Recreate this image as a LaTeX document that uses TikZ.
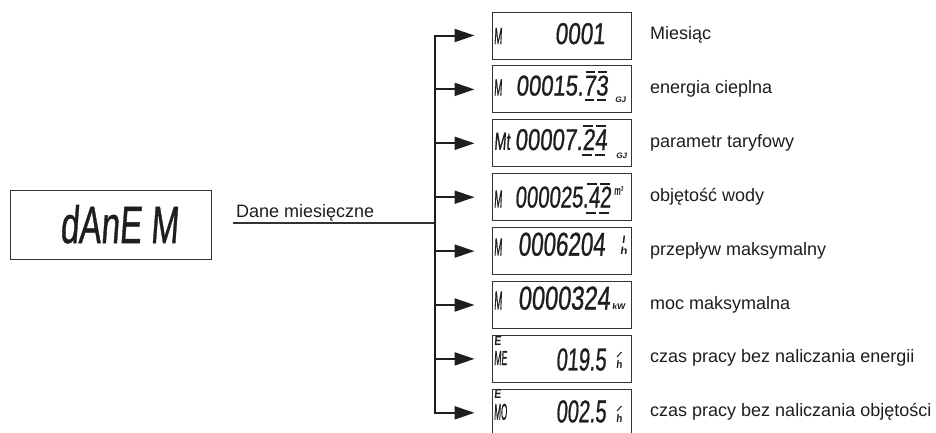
\documentclass[tikz,border=0pt]{standalone}
\usepackage{fontspec}
\usepackage{graphicx}
\usetikzlibrary{arrows.meta}
\setmainfont{Liberation Sans}
\newfontfamily\lcdf{Liberation Sans}[FakeSlant=0.12, FakeBold=1.0]
\newfontfamily\lcdu{Liberation Sans}[FakeSlant=0.12]
\newcommand\lcdtxt[3]{\resizebox{#1}{#2}{\lcdf #3}}
\newcommand\lcdbold[3]{\resizebox{#1}{#2}{\lcdu\bfseries #3}}
\definecolor{ink}{HTML}{1E1E1E}
\definecolor{frame}{HTML}{333333}
\begin{document}
\begin{tikzpicture}[x=1pt,y=-1pt,
  lcdbox/.style={draw=frame, line width=1pt, minimum width=139pt, minimum height=47pt, inner sep=0pt},
  lcd/.style={inner sep=0pt, outer sep=0pt, text=ink},
  lab/.style={inner sep=0pt, text=ink, font=\fontsize{18}{22}\selectfont},
  conn/.style={line width=2pt, draw=ink},
  arr/.style={conn, -{Triangle[length=20pt,width=13pt]}, shorten >=17pt},
  uline/.style={line width=1.2pt, draw=frame},
  segbar/.style={line width=2pt, draw=ink},
  tick/.style={line width=1pt, draw=ink}]
\clip (0,0) rectangle (936,432);
\fill[white] (0,0) rectangle (936,432);

% left display
\node[lcdbox, minimum width=201pt, minimum height=69pt] (lcd0) at (110.5,224.5) {};
\node[lcd, anchor=north west] (t0) at (60,205) {\lcdtxt{118pt}{38pt}{dAnE M}};
\node[lab, anchor=base west] (dm) at (236,217) {Dane miesięczne};

% display boxes
\node[lcdbox] (box1) at (561.5,35.5) {};
\node[lcdbox] (box2) at (561.5,89.4) {};
\node[lcdbox] (box3) at (561.5,143.3) {};
\node[lcdbox] (box4) at (561.5,197.2) {};
\node[lcdbox] (box5) at (561.5,251.1) {};
\node[lcdbox] (box6) at (561.5,305.0) {};
\node[lcdbox] (box7) at (561.5,358.9) {};
\node[lcdbox] (box8) at (561.5,412.8) {};

% bus and arrows
\coordinate (b1) at (435,35.5);
\coordinate (b2) at (435,89.4);
\coordinate (b3) at (435,143.3);
\coordinate (b4) at (435,197.2);
\coordinate (b5) at (435,251.1);
\coordinate (b6) at (435,305.0);
\coordinate (b7) at (435,358.9);
\coordinate (b8) at (435,412.8);
\coordinate (u0) at (233,223);
\coordinate (bj) at (435,223);
\draw[uline] (u0) -- (bj);
\draw[arr] (b8) -- (b1) -- (box1.west);
\draw[arr] (b1) -- (b8) -- (box8.west);
\draw[arr] (b2) -- (box2.west);
\draw[arr] (b3) -- (box3.west);
\draw[arr] (b4) -- (box4.west);
\draw[arr] (b5) -- (box5.west);
\draw[arr] (b6) -- (box6.west);
\draw[arr] (b7) -- (box7.west);

% row 1
\node[lcd, anchor=south west] (p1) at (494,44) {\lcdtxt{8pt}{16pt}{M}};
\node[lcd, anchor=north east] (d1) at (605,23) {\lcdtxt{50pt}{21pt}{0001}};
% row 2
\node[lcd, anchor=south west] (p2) at (494,95.5) {\lcdtxt{8pt}{16pt}{M}};
\node[lcd, anchor=north east] (d2) at (608,75.5) {\lcdtxt{92pt}{20pt}{00015.73}};
\draw[segbar] (586,72) -- (595,72) (598,72) -- (607,72);
\draw[segbar] (585,100) -- (594,100) (597,100) -- (606,100);
\node[lcd, anchor=north west] (u2) at (615,97) {\lcdbold{11pt}{5.5pt}{GJ}};
% row 3
\node[lcd, anchor=south west] (p3) at (494,150) {\lcdtxt{16pt}{17pt}{Mt}};
\node[lcd, anchor=north east] (d3) at (607,129) {\lcdtxt{92pt}{21pt}{00007.24}};
\draw[segbar] (583,126) -- (593,126) (596,126) -- (606,126);
\draw[segbar] (582,155) -- (592,155) (595,155) -- (605,155);
\node[lcd, anchor=north west] (u3) at (616,153) {\lcdbold{11pt}{5.5pt}{GJ}};
% row 4
\node[lcd, anchor=south west] (p4) at (494,207.5) {\lcdtxt{8pt}{17pt}{M}};
\node[lcd, anchor=north east] (d4) at (611,186.5) {\lcdtxt{96pt}{21pt}{000025.42}};
\draw[segbar] (587,183.5) -- (597,183.5) (600,183.5) -- (610,183.5);
\draw[segbar] (586,213) -- (596,213) (599,213) -- (609,213);
\node[lcd, anchor=north west] (u4) at (614,186) {\lcdbold{9pt}{9pt}{m³}};
% row 5
\node[lcd, anchor=south west] (p5) at (494,255.6) {\lcdtxt{8pt}{17pt}{M}};
\node[lcd, anchor=north east] (d5) at (605,232.6) {\lcdtxt{87pt}{23pt}{0006204}};
\node[lcd, anchor=north west] (u5) at (620,236) {\lcdbold{7pt}{18pt}{\shortstack{l\\h}}};
% row 6
\node[lcd, anchor=south west] (p6) at (494,309.5) {\lcdtxt{8pt}{18pt}{M}};
\node[lcd, anchor=north east] (d6) at (610,286.5) {\lcdtxt{92pt}{23pt}{0000324}};
\node[lcd, anchor=north west] (u6) at (612,303) {\lcdbold{13pt}{6pt}{kW}};
% row 7
\node[lcd, anchor=north west] (e7) at (494,336) {\lcdbold{7pt}{9pt}{E}};
\node[lcd, anchor=south west] (p7) at (494,365) {\lcdtxt{13pt}{14pt}{ME}};
\node[lcd, anchor=north east] (d7) at (606,348.4) {\lcdtxt{50pt}{22pt}{019.5}};
\node[lcd, anchor=north west] (u7) at (616,360) {\lcdbold{6pt}{8pt}{h}};
\draw[tick] (617,357) -- (621.5,352);
% row 8
\node[lcd, anchor=north west] (e8) at (494,389.5) {\lcdbold{7pt}{9pt}{E}};
\node[lcd, anchor=south west] (p8) at (494,420) {\lcdtxt{13pt}{16pt}{MO}};
\node[lcd, anchor=north east] (d8) at (606,400.3) {\lcdtxt{50pt}{22pt}{002.5}};
\node[lcd, anchor=north west] (u8) at (616,414) {\lcdbold{6pt}{8pt}{h}};
\draw[tick] (617,411) -- (621.5,406);

% labels
\node[lab, anchor=base west] (l1) at (650,39.5) {Miesiąc};
\node[lab, anchor=base west] (l2) at (650,93.4) {energia cieplna};
\node[lab, anchor=base west] (l3) at (650,147.3) {parametr taryfowy};
\node[lab, anchor=base west] (l4) at (650,201.2) {objętość wody};
\node[lab, anchor=base west] (l5) at (650,255.1) {przepływ maksymalny};
\node[lab, anchor=base west] (l6) at (650,309.0) {moc maksymalna};
\node[lab, anchor=base west] (l7) at (650,362.9) {czas pracy bez naliczania energii};
\node[lab, anchor=base west] (l8) at (650,416.8) {czas pracy bez naliczania objętości};
\end{tikzpicture}
\end{document}
